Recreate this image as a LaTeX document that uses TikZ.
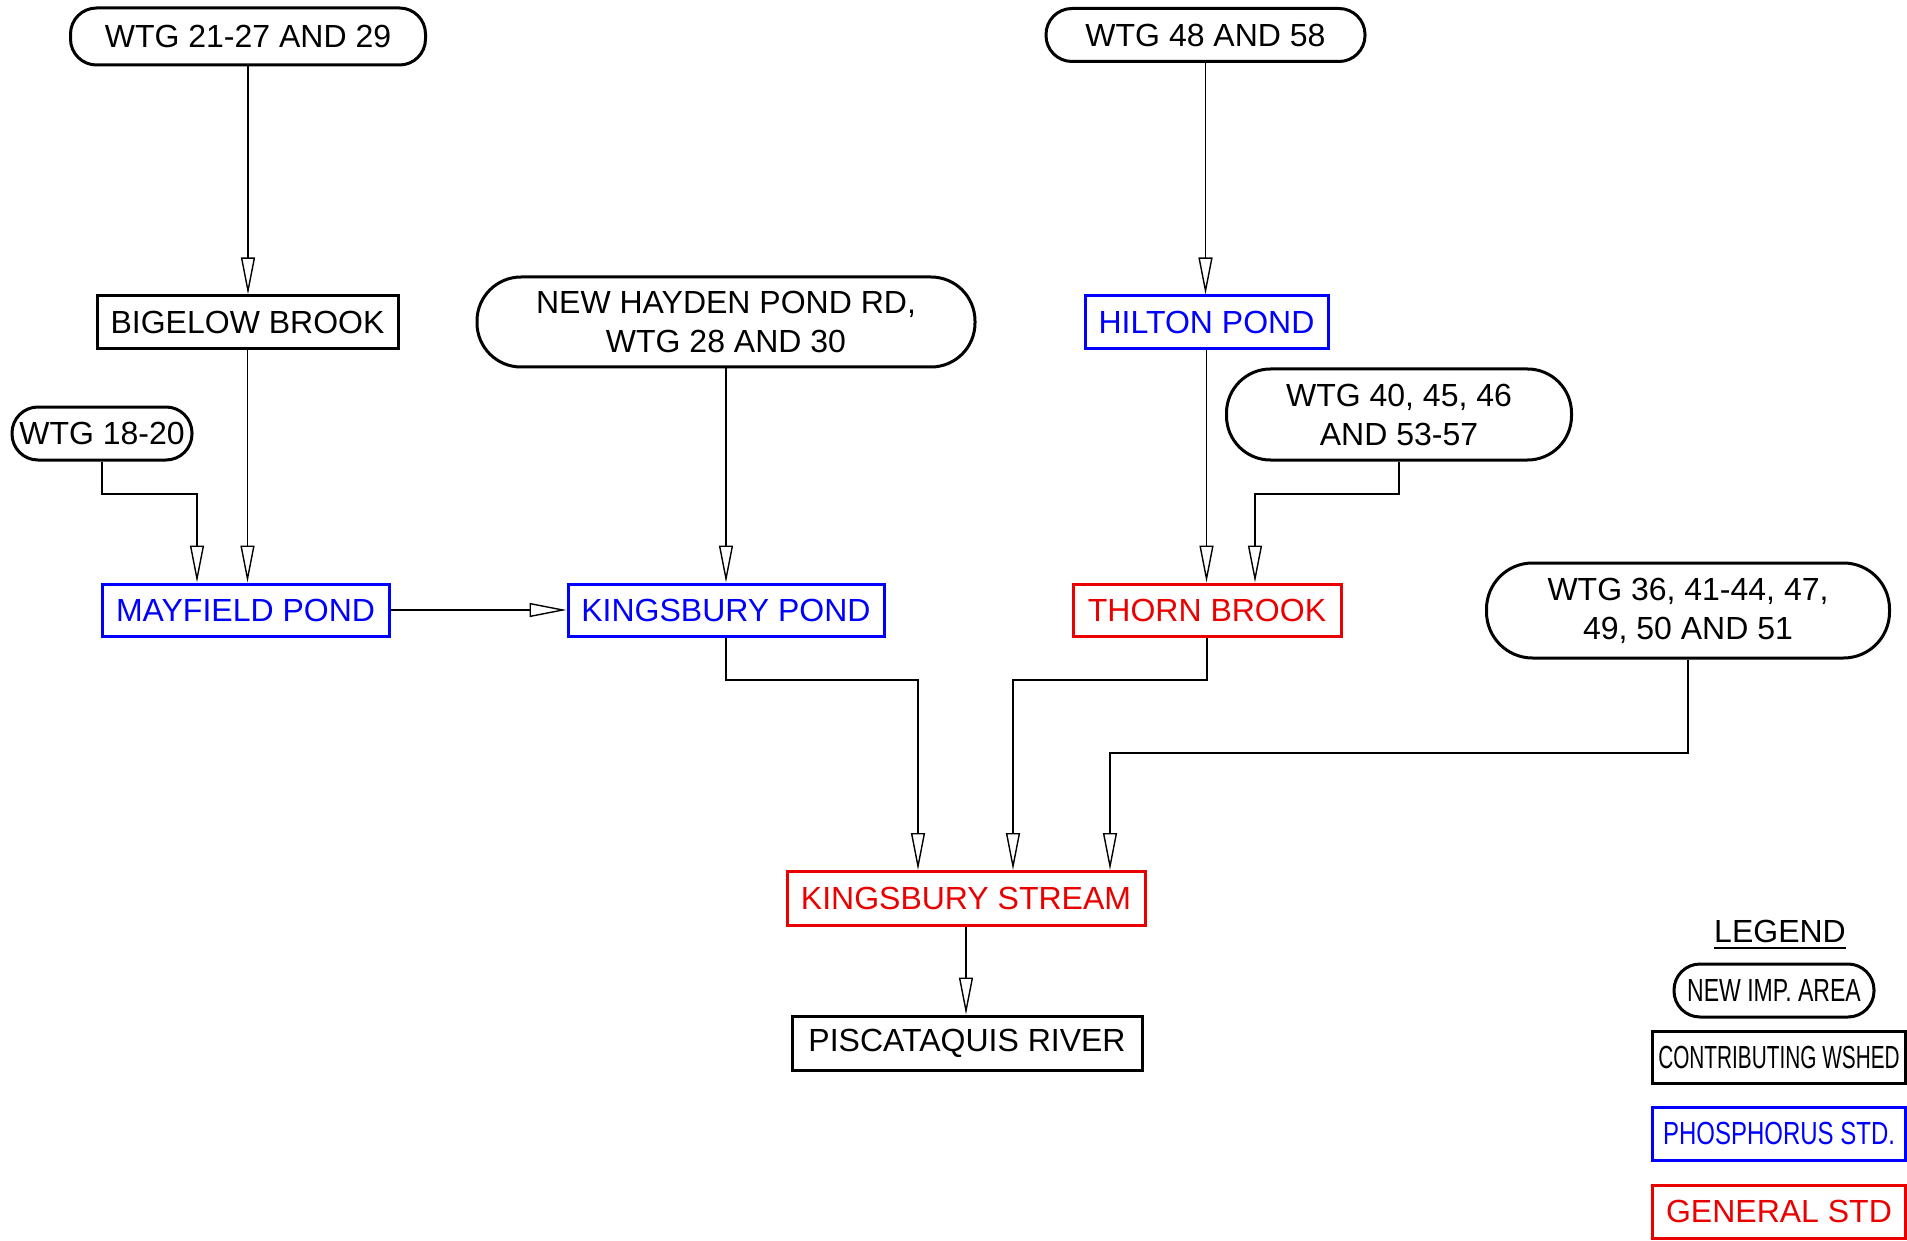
\documentclass[tikz,border=0pt]{standalone}
\usepackage{fontspec}
\setmainfont{Liberation Sans}
\usetikzlibrary{arrows.meta}
\definecolor{pblue}{RGB}{0,0,255}
\definecolor{gred}{RGB}{235,0,0}
\begin{document}
\begin{tikzpicture}[x=0.5pt,y=-0.5pt,
  every node/.style={font=\fontsize{16}{19.5}\selectfont, inner sep=0pt, align=center},
  area/.style={draw, line width=1.5pt, rounded corners=#1},
  area/.default=13pt,
  wshed/.style={draw, line width=1.5pt},
  phos/.style={draw=pblue, text=pblue, line width=1.5pt},
  gen/.style={draw=gred, text=gred, line width=1.5pt},
  flow/.style={line width=0.7pt, -{Triangle[open, length=18.5pt, width=7pt, line width=0.7pt]}}
]
\useasboundingbox (0,0) rectangle (1907,1241);

% nodes
\node[area, minimum width=177.5pt, minimum height=28.5pt] (w21) at (248,36.5) {WTG 21-27 AND 29};
\node[area, minimum width=159.5pt, minimum height=26.5pt] (w48) at (1205.5,35) {WTG 48 AND 58};
\node[wshed, minimum width=150.5pt, minimum height=26.5pt] (bigelow) at (247.5,322.5) {BIGELOW BROOK};
\node[area=22pt, minimum width=249pt, minimum height=45pt] (hayden) at (726,322) {NEW HAYDEN POND RD,\\WTG 28 AND 30};
\node[phos, minimum width=121.5pt, minimum height=26.5pt] (hilton) at (1206.5,322.5) {HILTON POND};
\node[area, minimum width=90pt, minimum height=26.5pt] (w18) at (102,433.5) {WTG 18-20};
\node[area=22pt, minimum width=172.5pt, minimum height=45.5pt] (w40) at (1399,414.5) {WTG 40, 45, 46\\AND 53-57};
\node[phos, minimum width=143.5pt, minimum height=26pt] (mayfield) at (245.5,610) {MAYFIELD POND};
\node[phos, minimum width=158pt, minimum height=26pt] (kpond) at (726,610) {KINGSBURY POND};
\node[gen, minimum width=134pt, minimum height=26pt] (thorn) at (1207,610) {THORN BROOK};
\node[area=23pt, minimum width=201.5pt, minimum height=47.5pt] (w36) at (1688,610.5) {WTG 36, 41-44, 47,\\49, 50 AND 51};
\node[gen, minimum width=179pt, minimum height=27pt] (stream) at (966,898.5) {KINGSBURY STREAM};
\node[wshed, minimum width=175pt, minimum height=27pt] (pisc) at (967,1043) {PISCATAQUIS RIVER};

% legend
\node (legend) at (1780,931) {LEGEND};
\draw[line width=1.2pt] ([yshift=-3pt]legend.base west) -- ([yshift=-3pt]legend.base east);
\node[area, minimum width=100pt, minimum height=26.5pt] (lnew) at (1774,990.5) {\scalebox{0.72}[1]{NEW IMP. AREA}};
\node[wshed, minimum width=126.5pt, minimum height=26pt] (lcon) at (1779,1057) {\scalebox{0.65}[1]{CONTRIBUTING WSHED}};
\node[phos, minimum width=126.5pt, minimum height=26.5pt] (lphos) at (1779,1133.5) {\scalebox{0.75}[1]{PHOSPHORUS STD.}};
\node[gen, minimum width=126.5pt, minimum height=26.5pt] (lgen) at (1779,1211.5) {GENERAL STD};

% junction points
\coordinate (j1) at (197,494);
\coordinate (j2) at (1255,494);
\coordinate (j3) at (918,680);
\coordinate (j4) at (1013,680);
\coordinate (j5) at (1110,753);

% connectors
\draw[flow] (w21.south) -- (w21.south |- bigelow.north);
\draw[flow] (bigelow.south) -- (bigelow.south |- mayfield.north);
\draw[flow] (w18.south) |- (j1) -- (j1 |- mayfield.north);
\draw[flow] (mayfield.east) -- (kpond.west);
\draw[flow] (hayden.south) -- (hayden.south |- kpond.north);
\draw[flow] (w48.south) -- (w48.south |- hilton.north);
\draw[flow] (hilton.south) -- (hilton.south |- thorn.north);
\draw[flow] (w40.south) |- (j2) -- (j2 |- thorn.north);
\draw[flow] (kpond.south) |- (j3) -- (j3 |- stream.north);
\draw[flow] (thorn.south) |- (j4) -- (j4 |- stream.north);
\draw[flow] (w36.south) |- (j5) -- (j5 |- stream.north);
\draw[flow] (stream.south) -- (stream.south |- pisc.north);
\end{tikzpicture}
\end{document}
